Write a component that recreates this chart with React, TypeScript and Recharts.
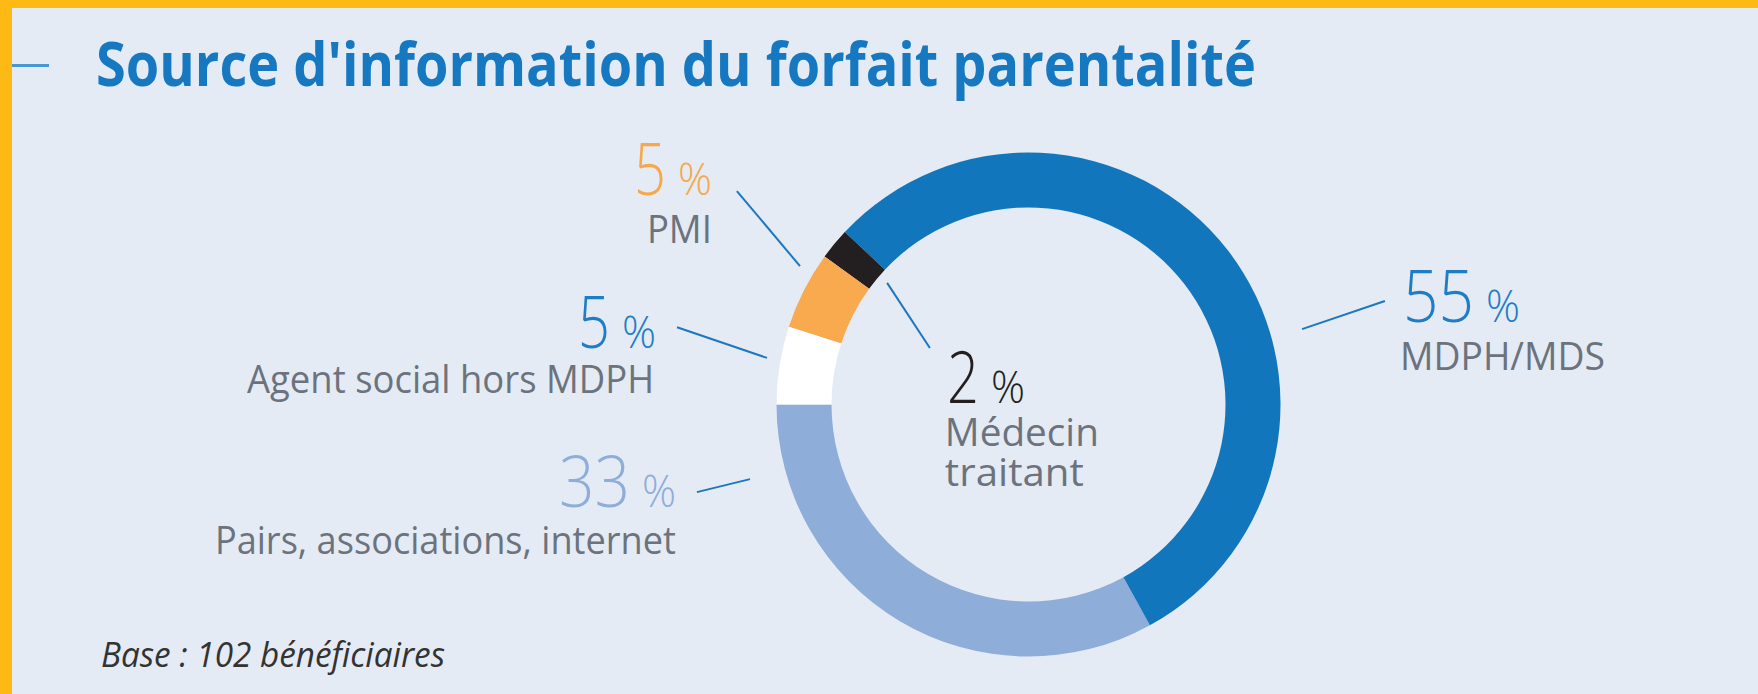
import React from 'react';
import { PieChart, Pie, Cell } from 'recharts';

// ---- Data (counter-clockwise order starting at 9 o'clock) ----
const categories = ['Pairs, associations, internet', 'MDPH/MDS', 'Médecin traitant', 'PMI', 'Agent social hors MDPH'];
const values = [33, 55, 2, 5, 5];
const labelLines = [['Pairs, associations, internet'], ['MDPH/MDS'], ['Médecin', 'traitant'], ['PMI'], ['Agent social hors MDPH']];
const titleText = "Source d'information du forfait parentalité";
const baseText = 'Base : 102 bénéficiaires';

// ---- Styles ----
const sliceColors = ['#8FADD9', '#1276BD', '#231F20', '#F9A94E', '#FFFFFF'];
const valueColors = ['#8FADD9', '#1F7DC7', '#231F20', '#F7A84B', '#1F7DC7'];
const BG = '#E4EBF5';
const ORANGE = '#FFB915';
const LEADER = '#1C77BF';
const GREY = '#6C737D';

// ---- Label layout (relative to pie geometry) ----
type Layout = {
  sa: number; sr: number; ea: number; er: number;
  anchor: 'start' | 'end';
  vdx: number; vdy: number; ldx: number; ldy: number;
  widths: number[];
};
const labelLayout: Layout[] = [
  { sa: 195.0, sr: 1.144, ea: 194.8, er: 1.361, anchor: 'end', vdx: -21, vdy: 15, ldx: -21, ldy: 62, widths: [461] },
  { sa: 15.4, sr: 1.126, ea: 16.2, er: 1.473, anchor: 'start', vdx: 18, vdy: 21, ldx: 15, ldy: 69, widths: [205] },
  { sa: 139.3, sr: 0.74, ea: 150.2, er: 0.451, anchor: 'start', vdx: 17, vdy: 55, ldx: 15, ldy: 98, widths: [154, 139] },
  { sa: 148.8, sr: 1.06, ea: 143.8, er: 1.434, anchor: 'end', vdx: -25, vdy: 4, ldx: -25, ldy: 52, widths: [65] },
  { sa: 169.9, sr: 1.054, ea: 167.6, er: 1.428, anchor: 'end', vdx: -21, vdy: 21, ldx: -23, ldy: 66, widths: [407] },
];

const data = categories.map((name, i) => ({ name, value: values[i] }));
const RAD = Math.PI / 180;
const PCT_W = 34;
const GAP = 12;
const NUM_FONT = "'Open Sans', 'Noto Sans', sans-serif";

const renderLabel = (props: any) => {
  const { cx, cy, outerRadius, index } = props;
  const cfg = labelLayout[index];
  const pt = (a: number, f: number) => ({
    x: cx + outerRadius * f * Math.cos(a * RAD),
    y: cy - outerRadius * f * Math.sin(a * RAD),
  });
  const s = pt(cfg.sa, cfg.sr);
  const e = pt(cfg.ea, cfg.er);
  const numStr = String(values[index]);
  const numW = numStr.length === 1 ? 32 : 71;
  const vx = e.x + cfg.vdx;
  const vy = e.y + cfg.vdy;
  let numX: number, pctX: number;
  if (cfg.anchor === 'end') {
    pctX = vx - PCT_W;
    numX = pctX - GAP - numW;
  } else {
    numX = vx;
    pctX = vx + numW + GAP;
  }
  return (
    <g key={`lbl-${index}`}>
      <line x1={s.x} y1={s.y} x2={e.x} y2={e.y} stroke={LEADER} strokeWidth={2} />
      <text x={numX} y={vy} fill={valueColors[index]} fontFamily={NUM_FONT} fontWeight={300} fontSize={71}
        textLength={numW} lengthAdjust="spacingAndGlyphs">{numStr}</text>
      <text x={pctX} y={vy} fill={valueColors[index]} fontFamily={NUM_FONT} fontWeight={300} fontSize={44}
        textLength={PCT_W} lengthAdjust="spacingAndGlyphs">%</text>
      {labelLines[index].map((t, i) => (
        <text key={i} x={e.x + cfg.ldx} y={e.y + cfg.ldy + i * 40} textAnchor={cfg.anchor} fill={GREY}
          fontFamily={NUM_FONT} fontSize={38} textLength={cfg.widths[i]} lengthAdjust="spacingAndGlyphs">{t}</text>
      ))}
    </g>
  );
};

export default function App() {
  return (
    <div style={{ position: 'absolute', left: 0, top: 0, width: 1758, height: 694, overflow: 'hidden', background: BG }}>
      <svg width={1758} height={694} style={{ position: 'absolute', left: 0, top: 0 }}>
        <rect x={0} y={0} width={1758} height={8} fill={ORANGE} />
        <rect x={0} y={0} width={12} height={694} fill={ORANGE} />
        <rect x={12} y={64} width={37} height={3} fill="#4A98D3" />
        <text x={96} y={86} fill="#1578C0" fontFamily={NUM_FONT} fontWeight={700} fontSize={61}
          textLength={1160} lengthAdjust="spacingAndGlyphs">{titleText}</text>
        <text x={101} y={667} fill="#333333" fontFamily={NUM_FONT} fontStyle="italic" fontSize={34}
          textLength={344} lengthAdjust="spacingAndGlyphs">{baseText}</text>
      </svg>
      <div style={{ position: 'absolute', left: 0, top: 0 }}>
        <PieChart width={1758} height={694} margin={{ top: 0, right: 0, bottom: 0, left: 0 }}>
          <Pie
            data={data}
            dataKey="value"
            nameKey="name"
            cx={1028.5}
            cy={404.5}
            innerRadius={197}
            outerRadius={252}
            startAngle={180}
            endAngle={540}
            stroke="none"
            isAnimationActive={false}
            labelLine={false}
            label={renderLabel}
          >
            {data.map((d, i) => (
              <Cell key={d.name} fill={sliceColors[i]} stroke="none" />
            ))}
          </Pie>
        </PieChart>
      </div>
    </div>
  );
}
